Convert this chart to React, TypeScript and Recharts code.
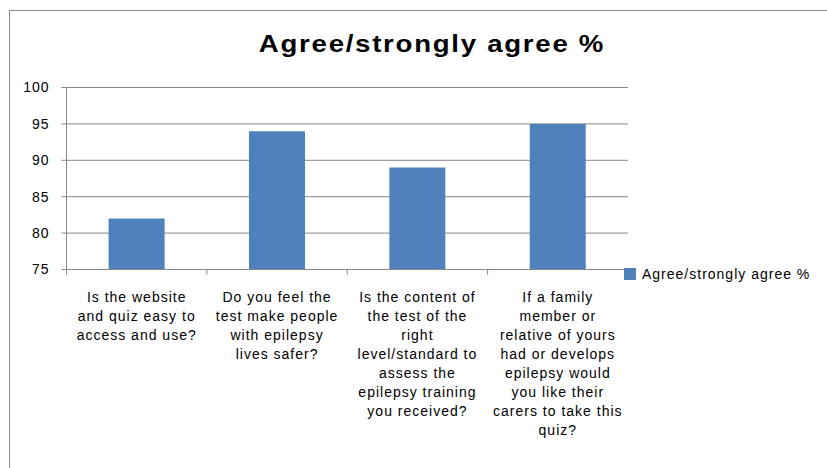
import React from 'react';
import { BarChart, Bar, XAxis, YAxis, CartesianGrid, Legend } from 'recharts';

const categories = [
  'Is the website and quiz easy to access and use?',
  'Do you feel the test make people with epilepsy lives safer?',
  'Is the content of the test of the right level/standard to assess the epilepsy training you received?',
  'If a family member or relative of yours had or develops epilepsy would you like their carers to take this quiz?',
];

// line breaks as they appear under each bar
const categoryLines = [
  ['Is the website', 'and quiz easy to', 'access and use?'],
  ['Do you feel the', 'test make people', 'with epilepsy', 'lives safer?'],
  ['Is the content of', 'the test of the', 'right', 'level/standard to', 'assess the', 'epilepsy training', 'you received?'],
  ['If a family', 'member or', 'relative of yours', 'had or develops', 'epilepsy would', 'you like their', 'carers to take this', 'quiz?'],
];

const agreeValues = [82, 94, 89, 95];
const yTicks = [75, 80, 85, 90, 95, 100];

const seriesName = 'Agree/strongly agree %';
const FONT = "'Liberation Sans', Arial, sans-serif";
const GRID = '#878787';
const BLUE = '#4F81BD';

const data = categories.map((c, i) => ({ category: c, agree: agreeValues[i] }));

const CategoryTick = (props: any) => {
  const { x, y, payload, index } = props;
  const half = payload && payload.offset ? payload.offset : 0;
  const lines = categoryLines[index] || [String(payload.value)];
  return (
    <g>
      <line x1={x - half} y1={y} x2={x - half} y2={y + 5} stroke={GRID} />
      {index === categories.length - 1 && (
        <line x1={x + half} y1={y} x2={x + half} y2={y + 5} stroke={GRID} />
      )}
      <text
        x={x}
        y={y + 32}
        textAnchor="middle"
        fill="#000"
        fontSize={14}
        fontFamily={FONT}
        letterSpacing={1}
      >
        {lines.map((l: string, i: number) => (
          <tspan key={i} x={x} dy={i === 0 ? 0 : 19}>
            {l}
          </tspan>
        ))}
      </text>
    </g>
  );
};

const LegendContent = () => (
  <div
    style={{
      display: 'flex',
      alignItems: 'center',
      fontFamily: FONT,
      fontSize: 14,
      letterSpacing: 1,
      color: '#000',
    }}
  >
    <span style={{ display: 'inline-block', width: 12, height: 12, background: BLUE, marginRight: 6 }} />
    <span style={{ lineHeight: '16px' }}>{seriesName}</span>
  </div>
);

export default function App() {
  return (
    <div style={{ position: 'absolute', left: 0, top: 0, width: 827, height: 468, overflow: 'hidden', background: '#fff' }}>
      <div
        style={{
          position: 'absolute',
          left: 9,
          top: 10,
          width: 900,
          height: 500,
          borderLeft: '1px solid #8c8c8c',
          borderTop: '1px solid #8c8c8c',
        }}
      />
      <div
        style={{
          position: 'absolute',
          left: 232,
          top: 30,
          width: 400,
          textAlign: 'center',
          fontFamily: FONT,
          fontWeight: 'bold',
          fontSize: 24,
          letterSpacing: 1.5,
          lineHeight: '28px',
          color: '#000',
          transform: 'scaleX(1.15)',
          transformOrigin: '50% 50%',
        }}
      >
        {seriesName}
      </div>
      <div style={{ position: 'absolute', left: 0, top: 0 }}>
        <BarChart
          width={827}
          height={468}
          data={data}
          margin={{ top: 87.5, right: -1, bottom: 8.5, left: 9.5 }}
          barCategoryGap="30%"
        >
          <CartesianGrid vertical={false} stroke={GRID} />
          <XAxis
            dataKey="category"
            interval={0}
            height={190}
            axisLine={{ stroke: GRID }}
            tickLine={false}
            tickSize={0}
            tickMargin={0}
            tick={<CategoryTick />}
          />
          <YAxis
            domain={[75, 100]}
            ticks={yTicks}
            interval={0}
            width={57}
            axisLine={{ stroke: GRID }}
            tickLine={{ stroke: GRID }}
            tickSize={5}
            tickMargin={12}
            tick={{ fill: '#000', fontSize: 14, fontFamily: FONT, letterSpacing: 1 }}
          />
          <Legend
            layout="horizontal"
            verticalAlign="middle"
            align="right"
            content={<LegendContent />}
            wrapperStyle={{ left: 624, top: 266, right: 'auto', width: 200 }}
          />
          <Bar dataKey="agree" name={seriesName} fill={BLUE} isAnimationActive={false} />
        </BarChart>
      </div>
    </div>
  );
}
